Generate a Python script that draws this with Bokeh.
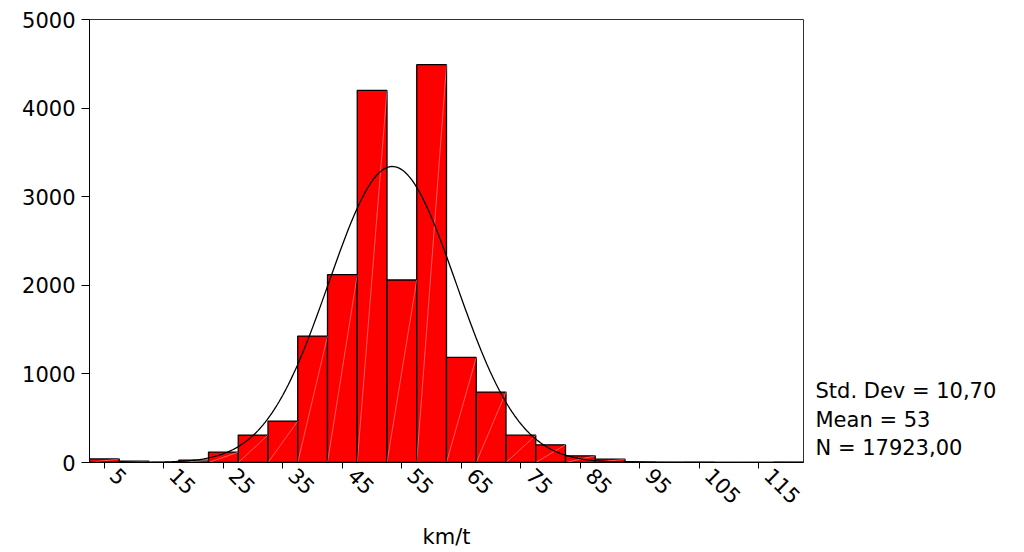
import numpy as np
from bokeh.plotting import figure
from bokeh.models import Range1d, FixedTicker, LinearAxis, ColumnDataSource
from bokeh.embed import file_html
from bokeh.resources import INLINE

# ---- data ----
bin_centers = [5, 10, 15, 20, 25, 30, 35, 40, 45, 50, 55, 60,
               65, 70, 75, 80, 85, 90, 95, 100, 105, 110, 115, 120]
counts = [40, 15, 0, 26, 116, 310, 467, 1427, 2120, 4200, 2060, 4490,
          1186, 795, 308, 200, 75, 38, 10, 5, 3, 2, 2, 3]
bin_width = 5
x_ticks = [5, 15, 25, 35, 45, 55, 65, 75, 85, 95, 105, 115]
y_ticks = [0, 1000, 2000, 3000, 4000, 5000]
std_dev = 10.70
mean_label = 53
curve_mean = 53.4
n_total = 17923
stats_lines = ["Std. Dev = 10,70", "Mean = 53", "N = 17923,00"]
x_title = "km/t"

FONT = "DejaVu Sans"
FS = "21px"

p = figure(width=1024, height=552, output_backend="svg", toolbar_location=None,
           x_range=Range1d(2.5, 122.5), y_range=Range1d(0, 5000),
           min_border_left=89, min_border_right=221, min_border_top=19,
           min_border_bottom=90)
p.xgrid.visible = False
p.ygrid.visible = False
p.outline_line_color = "#303030"
p.outline_line_width = 1
p.background_fill_color = "white"
p.border_fill_color = "white"

lefts = [c - bin_width / 2 for c in bin_centers]
rights = [c + bin_width / 2 for c in bin_centers]
src = ColumnDataSource(dict(left=lefts, right=rights, top=counts, bottom=[0] * len(counts)))
p.quad(left="left", right="right", top="top", bottom="bottom", source=src,
       fill_color="#FF0000", line_color="black", line_width=1.3)

# faint white diagonals seen inside the bars
diag = ColumnDataSource(dict(x0=lefts, y0=[0] * len(counts), x1=rights, y1=counts))
p.segment(x0="x0", y0="y0", x1="x1", y1="y1", source=diag,
          line_color="white", line_alpha=0.45, line_width=0.8)

# fitted normal curve from the displayed statistics
xs = np.linspace(2.5, 122.5, 400)
ys = n_total * bin_width / (std_dev * np.sqrt(2 * np.pi)) * np.exp(-0.5 * ((xs - curve_mean) / std_dev) ** 2)
p.line(xs, ys, line_color="black", line_width=1.3)

# x axis: tick marks only (labels not drawn)
xa = p.xaxis[0]
xa.ticker = FixedTicker(ticks=x_ticks)
xa.major_tick_out = 6
xa.major_tick_in = 0
xa.minor_tick_out = 0
xa.minor_tick_in = 0
xa.axis_line_color = "black"
xa.major_label_text_color = None
xa.major_label_text_font_size = "0px"
xa.major_label_standoff = 0

# second x axis: rotated tick labels (set slightly right of the ticks, as in the reference) and title
label_shift = 1.6
xl = LinearAxis(ticker=FixedTicker(ticks=[t + label_shift for t in x_ticks]),
                major_label_overrides={t + label_shift: str(t) for t in x_ticks})
xl.axis_line_color = None
xl.major_tick_line_color = None
xl.minor_tick_line_color = None
xl.major_tick_out = 0
xl.major_tick_in = 0
xl.minor_tick_out = 0
xl.minor_tick_in = 0
xl.major_label_orientation = -np.pi / 4
xl.major_label_text_font = FONT
xl.major_label_text_font_size = FS
xl.major_label_text_color = "black"
xl.major_label_standoff = 3
xl.axis_label = x_title
xl.axis_label_text_font = FONT
xl.axis_label_text_font_size = FS
xl.axis_label_text_font_style = "normal"
xl.axis_label_text_color = "black"
xl.axis_label_standoff = 11
p.add_layout(xl, "below")

ya = p.yaxis[0]
ya.ticker = FixedTicker(ticks=y_ticks)
ya.major_tick_out = 8
ya.major_tick_in = 0
ya.minor_tick_out = 0
ya.minor_tick_in = 0
ya.axis_line_color = "black"
ya.major_label_text_font = FONT
ya.major_label_text_font_size = FS
ya.major_label_text_color = "black"
ya.major_label_standoff = 6

# statistics text to the right of the plot frame (as labels of a bare right axis)
stat_pos = [812, 485, 169]
ra = LinearAxis(ticker=FixedTicker(ticks=stat_pos),
                major_label_overrides={v: s for v, s in zip(stat_pos, stats_lines)})
ra.axis_line_color = None
ra.major_tick_line_color = None
ra.minor_tick_line_color = None
ra.major_tick_out = 0
ra.major_tick_in = 0
ra.minor_tick_out = 0
ra.minor_tick_in = 0
ra.major_label_text_font = FONT
ra.major_label_text_font_size = FS
ra.major_label_text_color = "black"
ra.major_label_standoff = 12
p.add_layout(ra, "right")

open("out.html", "w").write(file_html(p, INLINE))
